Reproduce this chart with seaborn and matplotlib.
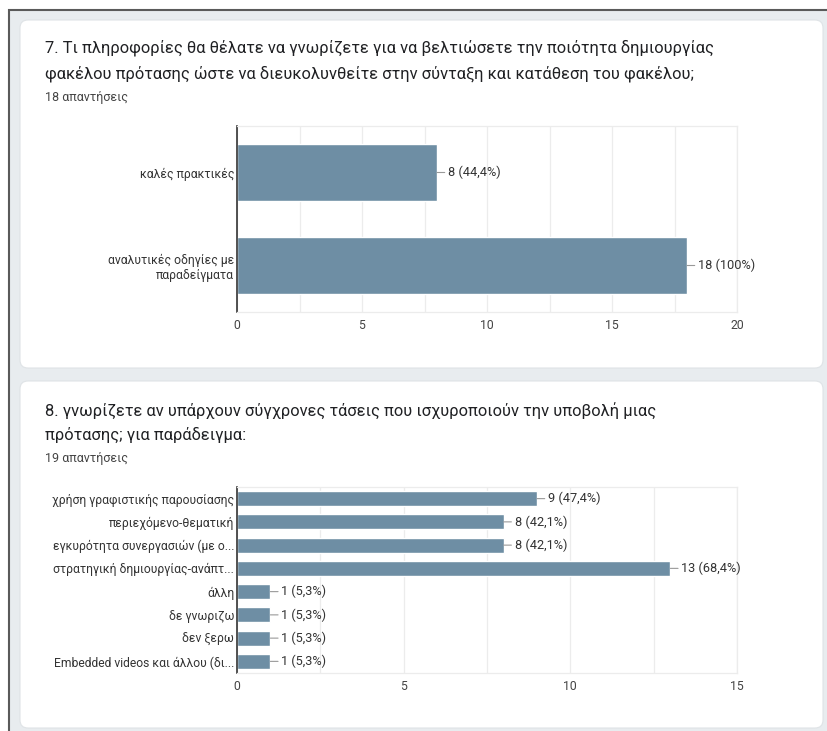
import numpy as np
import pandas as pd
import seaborn as sns
import matplotlib.pyplot as plt
from matplotlib.patches import FancyBboxPatch, Rectangle

# Data
q7_title = ["7. Τι πληροφορίες θα θέλατε να γνωρίζετε για να βελτιώσετε την ποιότητα δημιουργίας",
            "φακέλου πρότασης ώστε να διευκολυνθείτε στην σύνταξη και κατάθεση του φακέλου;"]
q7_responses = 18
q7_labels = ["καλές πρακτικές", "αναλυτικές οδηγίες με\nπαραδείγματα"]
q7_counts = [8, 18]

q8_title = ["8. γνωρίζετε αν υπάρχουν σύγχρονες τάσεις που ισχυροποιούν την υποβολή μιας",
            "πρότασης; για παράδειγμα:"]
q8_responses = 19
q8_labels = [
    "χρήση γραφιστικής παρουσίασης",
    "περιεχόμενο-θεματική",
    "εγκυρότητα συνεργασιών (με ο...",
    "στρατηγική δημιουργίας-ανάπτ...",
    "άλλη",
    "δε γνωριζω",
    "δεν ξερω",
    "Embedded videos και άλλου (δι...",
]
q8_counts = [9, 8, 8, 13, 1, 1, 1, 1]

sns.set_theme(style="white")
plt.rcParams["font.family"] = ["Roboto", "DejaVu Sans"]

W, H = 827, 731
fig = plt.figure(figsize=(W / 100, H / 100), dpi=100, facecolor="white")

# background layer in pixel coordinates
bg = fig.add_axes([0, 0, 1, 1])
bg.set_xlim(0, W)
bg.set_ylim(H, 0)
bg.axis("off")
bg.add_patch(Rectangle((9, 10), W, H, facecolor="#e8ecef", edgecolor="#5a5a5a", lw=1.5))
for top, bottom in [(20, 368), (381, 728)]:
    bg.add_patch(FancyBboxPatch((20, top), 803, bottom - top,
                                boxstyle="round,pad=0,rounding_size=8",
                                facecolor="white", edgecolor="#dfe3e6", lw=0.8))

for line, y in zip(q7_title, [53, 79]):
    bg.text(45, y, line, fontsize=11.9, color="#202124", va="baseline")
bg.text(45, 101, f"{q7_responses} απαντήσεις", fontsize=9, color="#444444", va="baseline")
for line, y in zip(q8_title, [416, 440]):
    bg.text(45, y, line, fontsize=11.9, color="#202124", va="baseline")
bg.text(45, 462, f"{q8_responses} απαντήσεις", fontsize=9, color="#444444", va="baseline")


def px_axes(left, top, right, bottom):
    return fig.add_axes([left / W, 1 - bottom / H, (right - left) / W, (bottom - top) / H])


def fmt_pct(c, n):
    p = 100 * c / n
    s = f"{p:.0f}" if abs(p - round(p)) < 1e-9 else f"{p:.1f}".replace(".", ",")
    return f"{c} ({s}%)"


def draw(ax, labels, counts, n, xmax, width):
    df = pd.DataFrame({"label": labels, "count": counts})
    sns.barplot(data=df, x="count", y="label", orient="h", color="#6e8ea4",
                saturation=1, width=width, ax=ax)
    ax.set_xlim(0, xmax)
    ax.set_xticks(np.arange(0, xmax + 1, 5))
    ax.set_xticks(np.arange(0, xmax + 0.1, 2.5), minor=True)
    ax.grid(axis="x", which="both", color="#ececec", lw=0.9)
    ax.set_axisbelow(True)
    ax.set_xlabel("")
    ax.set_ylabel("")
    ax.tick_params(axis="x", length=0, labelsize=8.8, colors="#444444", pad=5)
    ax.tick_params(axis="y", length=0, labelsize=8.7, colors="#333333", pad=2)
    for lbl in ax.get_yticklabels():
        lbl.set_horizontalalignment("right")
        lbl.set_multialignment("right")
    for s in ["top", "bottom", "right"]:
        ax.spines[s].set_color("#ececec")
        ax.spines[s].set_linewidth(0.9)
    ax.spines["left"].set_color("#333333")
    ax.spines["left"].set_linewidth(1.2)
    for i, c in enumerate(counts):
        ax.annotate(fmt_pct(c, n), xy=(c, i), xytext=(11, 0), textcoords="offset pixels",
                    va="center", ha="left", fontsize=9.2, color="#333333",
                    arrowprops=dict(arrowstyle="-", color="#999999", lw=0.8,
                                    shrinkA=0, shrinkB=0))


ax1 = px_axes(237, 126, 737, 312)
draw(ax1, q7_labels, q7_counts, q7_responses, 20, 0.62)
ax2 = px_axes(237, 487, 737, 673)
draw(ax2, q8_labels, q8_counts, q8_responses, 15, 0.65)

plt.savefig("out.png", dpi=100, facecolor="white")
